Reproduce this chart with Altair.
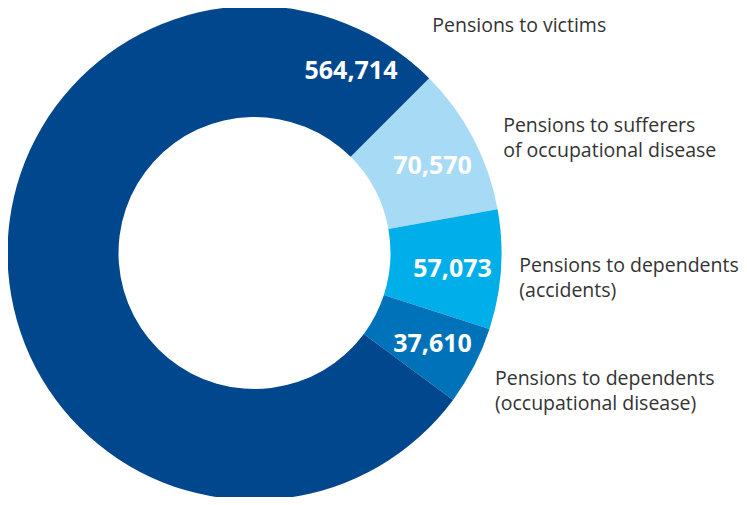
import math
import altair as alt
import pandas as pd

# ---- data ----
keys = ["sufferers", "dep_acc", "dep_occ", "victims"]
categories = [
    "Pensions to sufferers\nof occupational disease",
    "Pensions to dependents\n(accidents)",
    "Pensions to dependents\n(occupational disease)",
    "Pensions to victims",
]
values = [70570, 57073, 37610, 564714]
value_labels = ["70,570", "57,073", "37,610", "564,714"]
colors = ["#A7DBF5", "#00AEEA", "#0072BA", "#00478D"]

df = pd.DataFrame({
    "key": keys,
    "category": categories,
    "value": values,
    "vlabel": value_labels,
    "idx": list(range(len(keys))),
})

# ---- layout ----
CX, CY = 246.5, 245.0
R_OUT, R_IN = 247, 136
FONT = "Open Sans"
START = math.pi / 4

base = alt.Chart(df).encode(
    theta=alt.Theta("value:Q", stack=True,
                    scale=alt.Scale(range=[START, START + 2 * math.pi])),
    order=alt.Order("idx:Q"),
    detail=alt.Detail("key:N"),
    x=alt.value(CX),
    y=alt.value(CY),
)

arcs = base.mark_arc(innerRadius=R_IN, outerRadius=R_OUT).encode(
    color=alt.Color("key:N", scale=alt.Scale(domain=keys, range=colors), legend=None)
)


def value_text(key, radius, dx=0, dy=0, theta_offset=0.0):
    fld = "v_" + key
    return base.transform_calculate(
        **{fld: f"datum.key == '{key}' ? datum.vlabel : ''"}
    ).mark_text(
        radius=radius, thetaOffset=theta_offset, dx=dx, dy=dy,
        font=FONT, fontSize=25, fontWeight="bold", color="white",
        align="center", baseline="middle",
    ).encode(text=alt.Text(f"{fld}:N"))


def name_text(key, radius, dx=0, dy=0, theta_offset=0.0):
    fld = "n_" + key
    return base.transform_calculate(
        **{fld: f"datum.key == '{key}' ? datum.category : ''"}
    ).mark_text(
        radius=radius, thetaOffset=theta_offset, dx=dx, dy=dy,
        font=FONT, fontSize=19.5, color="#333333",
        align="left", baseline="alphabetic", lineBreak="\n", lineHeight=25,
    ).encode(text=alt.Text(f"{fld}:N"))


layers = [
    arcs,
    value_text("sufferers", 198, dx=2.6, dy=4.8),
    value_text("dep_acc", 198, dx=0.5, dy=2.6),
    value_text("dep_occ", 198, dx=2, dy=0),
    value_text("victims", 206.4, theta_offset=2.1314),
    name_text("sufferers", 262, dx=16.5, dy=0),
    name_text("dep_acc", 262, dx=3.4, dy=1),
    name_text("dep_occ", 262, dx=7.5, dy=12),
    name_text("victims", 283.4, theta_offset=2.3232),
]

chart = alt.layer(*layers).properties(
    width=731, height=489, padding=0,
    autosize=alt.AutoSizeParams(type="none"),
).configure_view(stroke=None)

chart.save("out.html", embed_options={"renderer": "svg", "actions": False})
